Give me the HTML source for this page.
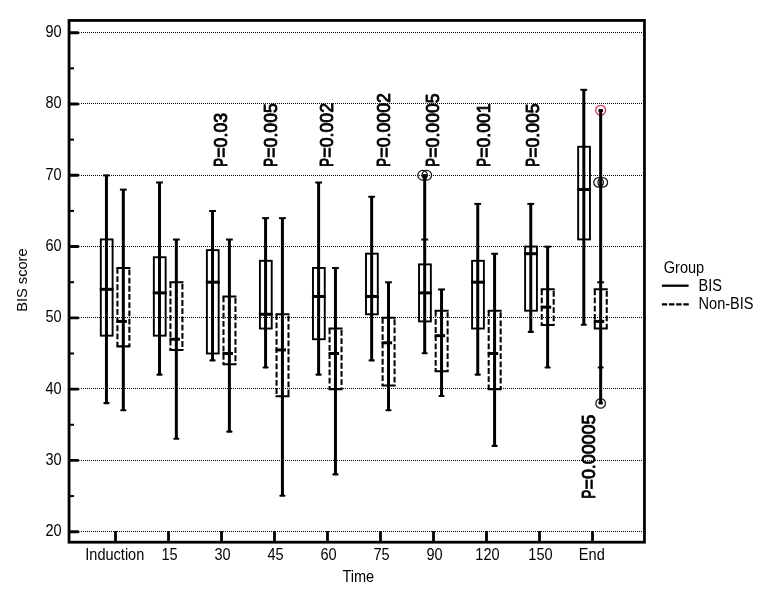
<!DOCTYPE html>
<html><head><meta charset="utf-8"><title>BIS score by time</title>
<style>
html,body{margin:0;padding:0;background:#fff;}
body{width:770px;height:600px;overflow:hidden;font-family:"Liberation Sans",sans-serif;}
svg{display:block;will-change:transform;}
</style></head>
<body>
<svg width="770" height="600" viewBox="0 0 770 600">
<rect width="770" height="600" fill="#fff"/>
<line x1="81" x2="643" y1="531.5" y2="531.5" stroke="#000" stroke-width="1" stroke-dasharray="1 1" shape-rendering="crispEdges"/>
<line x1="81" x2="643" y1="460.5" y2="460.5" stroke="#000" stroke-width="1" stroke-dasharray="1 1" shape-rendering="crispEdges"/>
<line x1="81" x2="643" y1="388.5" y2="388.5" stroke="#000" stroke-width="1" stroke-dasharray="1 1" shape-rendering="crispEdges"/>
<line x1="81" x2="643" y1="317.5" y2="317.5" stroke="#000" stroke-width="1" stroke-dasharray="1 1" shape-rendering="crispEdges"/>
<line x1="81" x2="643" y1="246.5" y2="246.5" stroke="#000" stroke-width="1" stroke-dasharray="1 1" shape-rendering="crispEdges"/>
<line x1="81" x2="643" y1="175.5" y2="175.5" stroke="#000" stroke-width="1" stroke-dasharray="1 1" shape-rendering="crispEdges"/>
<line x1="81" x2="643" y1="103.5" y2="103.5" stroke="#000" stroke-width="1" stroke-dasharray="1 1" shape-rendering="crispEdges"/>
<line x1="81" x2="643" y1="32.5" y2="32.5" stroke="#000" stroke-width="1" stroke-dasharray="1 1" shape-rendering="crispEdges"/>
<rect x="69.05" y="20.45" width="575.4" height="521.75" fill="none" stroke="#000" stroke-width="2.8"/>
<path d="M70 530.25 H78.2 L79.6 531.20 V532.20 L78.2 533.15 H70 Z" fill="#000"/>
<path d="M70 458.96 H78.2 L79.6 459.91 V460.91 L78.2 461.86 H70 Z" fill="#000"/>
<path d="M70 387.68 H78.2 L79.6 388.63 V389.63 L78.2 390.58 H70 Z" fill="#000"/>
<path d="M70 316.39 H78.2 L79.6 317.34 V318.34 L78.2 319.29 H70 Z" fill="#000"/>
<path d="M70 245.11 H78.2 L79.6 246.06 V247.06 L78.2 248.01 H70 Z" fill="#000"/>
<path d="M70 173.82 H78.2 L79.6 174.77 V175.77 L78.2 176.72 H70 Z" fill="#000"/>
<path d="M70 102.53 H78.2 L79.6 103.48 V104.48 L78.2 105.43 H70 Z" fill="#000"/>
<path d="M70 31.25 H78.2 L79.6 32.20 V33.20 L78.2 34.15 H70 Z" fill="#000"/>
<line x1="70" x2="74" y1="496.06" y2="496.06" stroke="#000" stroke-width="2"/>
<line x1="70" x2="74" y1="424.77" y2="424.77" stroke="#000" stroke-width="2"/>
<line x1="70" x2="74" y1="353.49" y2="353.49" stroke="#000" stroke-width="2"/>
<line x1="70" x2="74" y1="282.20" y2="282.20" stroke="#000" stroke-width="2"/>
<line x1="70" x2="74" y1="210.91" y2="210.91" stroke="#000" stroke-width="2"/>
<line x1="70" x2="74" y1="139.63" y2="139.63" stroke="#000" stroke-width="2"/>
<line x1="70" x2="74" y1="68.34" y2="68.34" stroke="#000" stroke-width="2"/>
<line x1="115.5" x2="115.5" y1="531" y2="541" stroke="#000" stroke-width="2.8"/>
<line x1="168.5" x2="168.5" y1="531" y2="541" stroke="#000" stroke-width="2.8"/>
<line x1="221.5" x2="221.5" y1="531" y2="541" stroke="#000" stroke-width="2.8"/>
<line x1="274.5" x2="274.5" y1="531" y2="541" stroke="#000" stroke-width="2.8"/>
<line x1="327.5" x2="327.5" y1="531" y2="541" stroke="#000" stroke-width="2.8"/>
<line x1="380.5" x2="380.5" y1="531" y2="541" stroke="#000" stroke-width="2.8"/>
<line x1="433.5" x2="433.5" y1="531" y2="541" stroke="#000" stroke-width="2.8"/>
<line x1="486.5" x2="486.5" y1="531" y2="541" stroke="#000" stroke-width="2.8"/>
<line x1="539.5" x2="539.5" y1="531" y2="541" stroke="#000" stroke-width="2.8"/>
<line x1="592.5" x2="592.5" y1="531" y2="541" stroke="#000" stroke-width="2.8"/>
<circle cx="422.59" cy="175.27" r="4.8" fill="none" stroke="#111" stroke-width="1.25"/>
<circle cx="426.79" cy="175.27" r="4.8" fill="none" stroke="#111" stroke-width="1.25"/>
<circle cx="598.56" cy="182.40" r="4.8" fill="none" stroke="#111" stroke-width="1.25"/>
<circle cx="602.76" cy="182.40" r="4.8" fill="none" stroke="#111" stroke-width="1.25"/>
<circle cx="600.66" cy="110.31" r="4.95" fill="none" stroke="#dc2f55" stroke-width="1.3"/>
<circle cx="600.66" cy="403.39" r="4.8" fill="none" stroke="#1a1a1a" stroke-width="1.25"/>
<line x1="106.45" x2="106.45" y1="175.27" y2="403.39" stroke="#000" stroke-width="3.0"/>
<rect x="103.05" y="174.37" width="6.8" height="2" fill="#000"/>
<rect x="103.35" y="402.09" width="6.2" height="2.1" rx="1" fill="#000"/>
<rect x="100.80" y="239.43" width="11.80" height="96.24" fill="none" stroke="#000" stroke-width="1.9"/>
<line x1="99.75" x2="113.55" y1="289.33" y2="289.33" stroke="#000" stroke-width="3.0"/>
<line x1="123.3" x2="123.3" y1="189.53" y2="410.51" stroke="#000" stroke-width="3.0"/>
<rect x="119.90" y="188.63" width="6.8" height="2" fill="#000"/>
<rect x="120.20" y="409.21" width="6.2" height="2.1" rx="1" fill="#000"/>
<line x1="117.42" x2="117.42" y1="267.94" y2="346.36" stroke="#000" stroke-width="2.05" stroke-dasharray="5.8 2.4"/>
<line x1="129.38" x2="129.38" y1="267.94" y2="346.36" stroke="#000" stroke-width="2.05" stroke-dasharray="5.8 2.4" stroke-dashoffset="-1.5"/>
<line x1="116.40" x2="130.40" y1="267.94" y2="267.94" stroke="#000" stroke-width="2.05" stroke-dasharray="5.8 2.4"/>
<line x1="116.40" x2="130.40" y1="346.36" y2="346.36" stroke="#000" stroke-width="2.05" stroke-dasharray="5.8 2.4"/>
<line x1="116.40" x2="126.90" y1="321.41" y2="321.41" stroke="#000" stroke-width="3.0"/>
<line x1="159.49" x2="159.49" y1="182.40" y2="374.87" stroke="#000" stroke-width="3.0"/>
<rect x="156.09" y="181.50" width="6.8" height="2" fill="#000"/>
<rect x="156.39" y="373.57" width="6.2" height="2.1" rx="1" fill="#000"/>
<rect x="153.84" y="257.25" width="11.80" height="78.41" fill="none" stroke="#000" stroke-width="1.9"/>
<line x1="152.79" x2="166.59" y1="292.89" y2="292.89" stroke="#000" stroke-width="3.0"/>
<line x1="176.34" x2="176.34" y1="239.43" y2="439.03" stroke="#000" stroke-width="3.0"/>
<rect x="172.94" y="238.53" width="6.8" height="2" fill="#000"/>
<rect x="173.24" y="437.73" width="6.2" height="2.1" rx="1" fill="#000"/>
<line x1="170.47" x2="170.47" y1="282.20" y2="349.92" stroke="#000" stroke-width="2.05" stroke-dasharray="5.8 2.4"/>
<line x1="182.41" x2="182.41" y1="282.20" y2="349.92" stroke="#000" stroke-width="2.05" stroke-dasharray="5.8 2.4" stroke-dashoffset="-1.5"/>
<line x1="169.44" x2="183.44" y1="282.20" y2="282.20" stroke="#000" stroke-width="2.05" stroke-dasharray="5.8 2.4"/>
<line x1="169.44" x2="183.44" y1="349.92" y2="349.92" stroke="#000" stroke-width="2.05" stroke-dasharray="5.8 2.4"/>
<line x1="169.44" x2="179.94" y1="339.23" y2="339.23" stroke="#000" stroke-width="3.0"/>
<line x1="212.53" x2="212.53" y1="210.91" y2="360.61" stroke="#000" stroke-width="3.0"/>
<rect x="209.13" y="210.01" width="6.8" height="2" fill="#000"/>
<rect x="209.43" y="359.31" width="6.2" height="2.1" rx="1" fill="#000"/>
<rect x="206.88" y="250.12" width="11.80" height="103.36" fill="none" stroke="#000" stroke-width="1.9"/>
<line x1="205.83" x2="219.63" y1="282.20" y2="282.20" stroke="#000" stroke-width="3.0"/>
<line x1="229.38" x2="229.38" y1="239.43" y2="431.90" stroke="#000" stroke-width="3.0"/>
<rect x="225.98" y="238.53" width="6.8" height="2" fill="#000"/>
<rect x="226.28" y="430.60" width="6.2" height="2.1" rx="1" fill="#000"/>
<line x1="223.50" x2="223.50" y1="296.46" y2="364.18" stroke="#000" stroke-width="2.05" stroke-dasharray="5.8 2.4"/>
<line x1="235.45" x2="235.45" y1="296.46" y2="364.18" stroke="#000" stroke-width="2.05" stroke-dasharray="5.8 2.4" stroke-dashoffset="-1.5"/>
<line x1="222.48" x2="236.48" y1="296.46" y2="296.46" stroke="#000" stroke-width="2.05" stroke-dasharray="5.8 2.4"/>
<line x1="222.48" x2="236.48" y1="364.18" y2="364.18" stroke="#000" stroke-width="2.05" stroke-dasharray="5.8 2.4"/>
<line x1="222.48" x2="232.98" y1="353.49" y2="353.49" stroke="#000" stroke-width="3.0"/>
<line x1="265.57" x2="265.57" y1="218.04" y2="367.74" stroke="#000" stroke-width="3.0"/>
<rect x="262.17" y="217.14" width="6.8" height="2" fill="#000"/>
<rect x="262.47" y="366.44" width="6.2" height="2.1" rx="1" fill="#000"/>
<rect x="259.92" y="260.81" width="11.80" height="67.72" fill="none" stroke="#000" stroke-width="1.9"/>
<line x1="258.87" x2="272.67" y1="314.28" y2="314.28" stroke="#000" stroke-width="3.0"/>
<line x1="282.42" x2="282.42" y1="218.04" y2="496.06" stroke="#000" stroke-width="3.0"/>
<rect x="279.02" y="217.14" width="6.8" height="2" fill="#000"/>
<rect x="279.32" y="494.76" width="6.2" height="2.1" rx="1" fill="#000"/>
<line x1="276.55" x2="276.55" y1="314.28" y2="396.26" stroke="#000" stroke-width="2.05" stroke-dasharray="5.8 2.4"/>
<line x1="288.50" x2="288.50" y1="314.28" y2="396.26" stroke="#000" stroke-width="2.05" stroke-dasharray="5.8 2.4" stroke-dashoffset="-1.5"/>
<line x1="275.52" x2="289.52" y1="314.28" y2="314.28" stroke="#000" stroke-width="2.05" stroke-dasharray="5.8 2.4"/>
<line x1="275.52" x2="289.52" y1="396.26" y2="396.26" stroke="#000" stroke-width="2.05" stroke-dasharray="5.8 2.4"/>
<line x1="275.52" x2="286.02" y1="349.92" y2="349.92" stroke="#000" stroke-width="3.0"/>
<line x1="318.61" x2="318.61" y1="182.40" y2="374.87" stroke="#000" stroke-width="3.0"/>
<rect x="315.21" y="181.50" width="6.8" height="2" fill="#000"/>
<rect x="315.51" y="373.57" width="6.2" height="2.1" rx="1" fill="#000"/>
<rect x="312.96" y="267.94" width="11.80" height="71.29" fill="none" stroke="#000" stroke-width="1.9"/>
<line x1="311.91" x2="325.71" y1="296.46" y2="296.46" stroke="#000" stroke-width="3.0"/>
<line x1="335.46" x2="335.46" y1="267.94" y2="474.67" stroke="#000" stroke-width="3.0"/>
<rect x="332.06" y="267.04" width="6.8" height="2" fill="#000"/>
<rect x="332.36" y="473.37" width="6.2" height="2.1" rx="1" fill="#000"/>
<line x1="329.58" x2="329.58" y1="328.53" y2="389.13" stroke="#000" stroke-width="2.05" stroke-dasharray="5.8 2.4"/>
<line x1="341.54" x2="341.54" y1="328.53" y2="389.13" stroke="#000" stroke-width="2.05" stroke-dasharray="5.8 2.4" stroke-dashoffset="-1.5"/>
<line x1="328.56" x2="342.56" y1="328.53" y2="328.53" stroke="#000" stroke-width="2.05" stroke-dasharray="5.8 2.4"/>
<line x1="328.56" x2="342.56" y1="389.13" y2="389.13" stroke="#000" stroke-width="2.05" stroke-dasharray="5.8 2.4"/>
<line x1="328.56" x2="339.06" y1="353.49" y2="353.49" stroke="#000" stroke-width="3.0"/>
<line x1="371.65" x2="371.65" y1="196.66" y2="360.61" stroke="#000" stroke-width="3.0"/>
<rect x="368.25" y="195.76" width="6.8" height="2" fill="#000"/>
<rect x="368.55" y="359.31" width="6.2" height="2.1" rx="1" fill="#000"/>
<rect x="366.00" y="253.68" width="11.80" height="60.59" fill="none" stroke="#000" stroke-width="1.9"/>
<line x1="364.95" x2="378.75" y1="296.46" y2="296.46" stroke="#000" stroke-width="3.0"/>
<line x1="388.5" x2="388.5" y1="282.20" y2="410.51" stroke="#000" stroke-width="3.0"/>
<rect x="385.10" y="281.30" width="6.8" height="2" fill="#000"/>
<rect x="385.40" y="409.21" width="6.2" height="2.1" rx="1" fill="#000"/>
<line x1="382.62" x2="382.62" y1="317.84" y2="385.56" stroke="#000" stroke-width="2.05" stroke-dasharray="5.8 2.4"/>
<line x1="394.58" x2="394.58" y1="317.84" y2="385.56" stroke="#000" stroke-width="2.05" stroke-dasharray="5.8 2.4" stroke-dashoffset="-1.5"/>
<line x1="381.60" x2="395.60" y1="317.84" y2="317.84" stroke="#000" stroke-width="2.05" stroke-dasharray="5.8 2.4"/>
<line x1="381.60" x2="395.60" y1="385.56" y2="385.56" stroke="#000" stroke-width="2.05" stroke-dasharray="5.8 2.4"/>
<line x1="381.60" x2="392.10" y1="342.79" y2="342.79" stroke="#000" stroke-width="3.0"/>
<line x1="424.69" x2="424.69" y1="175.27" y2="353.49" stroke="#000" stroke-width="3.0"/>
<rect x="421.29" y="238.53" width="6.8" height="2" fill="#000"/>
<rect x="421.59" y="352.19" width="6.2" height="2.1" rx="1" fill="#000"/>
<rect x="419.04" y="264.38" width="11.80" height="57.03" fill="none" stroke="#000" stroke-width="1.9"/>
<line x1="417.99" x2="431.79" y1="292.89" y2="292.89" stroke="#000" stroke-width="3.0"/>
<line x1="441.54" x2="441.54" y1="289.33" y2="396.26" stroke="#000" stroke-width="3.0"/>
<rect x="438.14" y="288.43" width="6.8" height="2" fill="#000"/>
<rect x="438.44" y="394.96" width="6.2" height="2.1" rx="1" fill="#000"/>
<line x1="435.67" x2="435.67" y1="310.71" y2="371.31" stroke="#000" stroke-width="2.05" stroke-dasharray="5.8 2.4"/>
<line x1="447.62" x2="447.62" y1="310.71" y2="371.31" stroke="#000" stroke-width="2.05" stroke-dasharray="5.8 2.4" stroke-dashoffset="-1.5"/>
<line x1="434.64" x2="448.64" y1="310.71" y2="310.71" stroke="#000" stroke-width="2.05" stroke-dasharray="5.8 2.4"/>
<line x1="434.64" x2="448.64" y1="371.31" y2="371.31" stroke="#000" stroke-width="2.05" stroke-dasharray="5.8 2.4"/>
<line x1="434.64" x2="445.14" y1="335.66" y2="335.66" stroke="#000" stroke-width="3.0"/>
<line x1="477.72999999999996" x2="477.72999999999996" y1="203.78" y2="374.87" stroke="#000" stroke-width="3.0"/>
<rect x="474.33" y="202.88" width="6.8" height="2" fill="#000"/>
<rect x="474.63" y="373.57" width="6.2" height="2.1" rx="1" fill="#000"/>
<rect x="472.08" y="260.81" width="11.80" height="67.72" fill="none" stroke="#000" stroke-width="1.9"/>
<line x1="471.03" x2="484.83" y1="282.20" y2="282.20" stroke="#000" stroke-width="3.0"/>
<line x1="494.58" x2="494.58" y1="253.68" y2="446.16" stroke="#000" stroke-width="3.0"/>
<rect x="491.18" y="252.78" width="6.8" height="2" fill="#000"/>
<rect x="491.48" y="444.86" width="6.2" height="2.1" rx="1" fill="#000"/>
<line x1="488.70" x2="488.70" y1="310.71" y2="389.13" stroke="#000" stroke-width="2.05" stroke-dasharray="5.8 2.4"/>
<line x1="500.66" x2="500.66" y1="310.71" y2="389.13" stroke="#000" stroke-width="2.05" stroke-dasharray="5.8 2.4" stroke-dashoffset="-1.5"/>
<line x1="487.68" x2="501.68" y1="310.71" y2="310.71" stroke="#000" stroke-width="2.05" stroke-dasharray="5.8 2.4"/>
<line x1="487.68" x2="501.68" y1="389.13" y2="389.13" stroke="#000" stroke-width="2.05" stroke-dasharray="5.8 2.4"/>
<line x1="487.68" x2="498.18" y1="353.49" y2="353.49" stroke="#000" stroke-width="3.0"/>
<line x1="530.77" x2="530.77" y1="203.78" y2="332.10" stroke="#000" stroke-width="3.0"/>
<rect x="527.37" y="202.88" width="6.8" height="2" fill="#000"/>
<rect x="527.67" y="330.80" width="6.2" height="2.1" rx="1" fill="#000"/>
<rect x="525.12" y="246.56" width="11.80" height="64.16" fill="none" stroke="#000" stroke-width="1.9"/>
<line x1="524.07" x2="537.87" y1="253.68" y2="253.68" stroke="#000" stroke-width="3.0"/>
<line x1="547.62" x2="547.62" y1="246.56" y2="367.74" stroke="#000" stroke-width="3.0"/>
<rect x="544.22" y="245.66" width="6.8" height="2" fill="#000"/>
<rect x="544.52" y="366.44" width="6.2" height="2.1" rx="1" fill="#000"/>
<line x1="541.75" x2="541.75" y1="289.33" y2="324.97" stroke="#000" stroke-width="2.05" stroke-dasharray="5.8 2.4"/>
<line x1="553.70" x2="553.70" y1="289.33" y2="324.97" stroke="#000" stroke-width="2.05" stroke-dasharray="5.8 2.4" stroke-dashoffset="-1.5"/>
<line x1="540.72" x2="554.72" y1="289.33" y2="289.33" stroke="#000" stroke-width="2.05" stroke-dasharray="5.8 2.4"/>
<line x1="540.72" x2="554.72" y1="324.97" y2="324.97" stroke="#000" stroke-width="2.05" stroke-dasharray="5.8 2.4"/>
<line x1="540.72" x2="551.22" y1="307.15" y2="307.15" stroke="#000" stroke-width="3.0"/>
<line x1="583.8100000000001" x2="583.8100000000001" y1="89.73" y2="324.97" stroke="#000" stroke-width="3.0"/>
<rect x="580.41" y="88.83" width="6.8" height="2" fill="#000"/>
<rect x="580.71" y="323.67" width="6.2" height="2.1" rx="1" fill="#000"/>
<rect x="578.16" y="146.76" width="11.80" height="92.67" fill="none" stroke="#000" stroke-width="1.9"/>
<line x1="577.11" x2="590.91" y1="189.53" y2="189.53" stroke="#000" stroke-width="3.0"/>
<line x1="600.66" x2="600.66" y1="109.69" y2="403.39" stroke="#000" stroke-width="3.0"/>
<rect x="597.26" y="281.30" width="6.8" height="2" fill="#000"/>
<rect x="597.56" y="366.44" width="6.2" height="2.1" rx="1" fill="#000"/>
<line x1="594.78" x2="594.78" y1="289.33" y2="328.53" stroke="#000" stroke-width="2.05" stroke-dasharray="5.8 2.4"/>
<line x1="606.74" x2="606.74" y1="289.33" y2="328.53" stroke="#000" stroke-width="2.05" stroke-dasharray="5.8 2.4" stroke-dashoffset="-1.5"/>
<line x1="593.76" x2="607.76" y1="289.33" y2="289.33" stroke="#000" stroke-width="2.05" stroke-dasharray="5.8 2.4"/>
<line x1="593.76" x2="607.76" y1="328.53" y2="328.53" stroke="#000" stroke-width="2.05" stroke-dasharray="5.8 2.4"/>
<line x1="593.76" x2="604.26" y1="321.41" y2="321.41" stroke="#000" stroke-width="3.0"/>
<rect x="422.49" y="174.07" width="4.4" height="3" fill="#000"/>
<rect x="598.46" y="109.01" width="4.4" height="3" fill="#000"/>
<rect x="598.46" y="401.59" width="4.4" height="3" rx="1" fill="#000"/>
<text transform="translate(61.60,536.10) scale(0.915,1)" text-anchor="end" font-family="Liberation Sans, sans-serif" font-size="15.9" fill="#000">20</text>
<text transform="translate(61.60,464.81) scale(0.915,1)" text-anchor="end" font-family="Liberation Sans, sans-serif" font-size="15.9" fill="#000">30</text>
<text transform="translate(61.60,393.53) scale(0.915,1)" text-anchor="end" font-family="Liberation Sans, sans-serif" font-size="15.9" fill="#000">40</text>
<text transform="translate(61.60,322.24) scale(0.915,1)" text-anchor="end" font-family="Liberation Sans, sans-serif" font-size="15.9" fill="#000">50</text>
<text transform="translate(61.60,250.96) scale(0.915,1)" text-anchor="end" font-family="Liberation Sans, sans-serif" font-size="15.9" fill="#000">60</text>
<text transform="translate(61.60,179.67) scale(0.915,1)" text-anchor="end" font-family="Liberation Sans, sans-serif" font-size="15.9" fill="#000">70</text>
<text transform="translate(61.60,108.38) scale(0.915,1)" text-anchor="end" font-family="Liberation Sans, sans-serif" font-size="15.9" fill="#000">80</text>
<text transform="translate(61.60,37.10) scale(0.915,1)" text-anchor="end" font-family="Liberation Sans, sans-serif" font-size="15.9" fill="#000">90</text>
<text transform="translate(114.80,559.80) scale(0.915,1)" text-anchor="middle" font-family="Liberation Sans, sans-serif" font-size="15.9" fill="#000">Induction</text>
<text transform="translate(169.50,559.80) scale(0.915,1)" text-anchor="middle" font-family="Liberation Sans, sans-serif" font-size="15.9" fill="#000">15</text>
<text transform="translate(222.50,559.80) scale(0.915,1)" text-anchor="middle" font-family="Liberation Sans, sans-serif" font-size="15.9" fill="#000">30</text>
<text transform="translate(275.50,559.80) scale(0.915,1)" text-anchor="middle" font-family="Liberation Sans, sans-serif" font-size="15.9" fill="#000">45</text>
<text transform="translate(328.50,559.80) scale(0.915,1)" text-anchor="middle" font-family="Liberation Sans, sans-serif" font-size="15.9" fill="#000">60</text>
<text transform="translate(381.50,559.80) scale(0.915,1)" text-anchor="middle" font-family="Liberation Sans, sans-serif" font-size="15.9" fill="#000">75</text>
<text transform="translate(434.50,559.80) scale(0.915,1)" text-anchor="middle" font-family="Liberation Sans, sans-serif" font-size="15.9" fill="#000">90</text>
<text transform="translate(487.50,559.80) scale(0.915,1)" text-anchor="middle" font-family="Liberation Sans, sans-serif" font-size="15.9" fill="#000">120</text>
<text transform="translate(540.50,559.80) scale(0.915,1)" text-anchor="middle" font-family="Liberation Sans, sans-serif" font-size="15.9" fill="#000">150</text>
<text transform="translate(591.80,559.80) scale(0.915,1)" text-anchor="middle" font-family="Liberation Sans, sans-serif" font-size="15.9" fill="#000">End</text>
<text transform="translate(358.30,582.00) scale(0.915,1)" text-anchor="middle" font-family="Liberation Sans, sans-serif" font-size="15.9" fill="#000">Time</text>
<text transform="translate(26.6,280.1) rotate(-90) scale(0.975,1)" text-anchor="middle" font-family="Liberation Sans, sans-serif" font-size="15" fill="#000">BIS score</text>
<text transform="translate(663.80,272.90) scale(0.915,1)" text-anchor="start" font-family="Liberation Sans, sans-serif" font-size="15.9" fill="#000">Group</text>
<text transform="translate(698.60,290.70) scale(0.915,1)" text-anchor="start" font-family="Liberation Sans, sans-serif" font-size="15.9" fill="#000">BIS</text>
<text transform="translate(698.60,308.90) scale(0.915,1)" text-anchor="start" font-family="Liberation Sans, sans-serif" font-size="15.9" fill="#000">Non-BIS</text>
<line x1="661.9" x2="688.6" y1="285.7" y2="285.7" stroke="#000" stroke-width="2.3"/>
<line x1="661.9" x2="688.8" y1="304.3" y2="304.3" stroke="#000" stroke-width="2.3" stroke-dasharray="5.4 1.75"/>
<g transform="translate(226.50,165.90) rotate(-90)">
<text transform="translate(-0.9,0) scale(0.70,1)" font-family="Liberation Sans, sans-serif" font-size="18.6" fill="#000" stroke="#000" stroke-width="0.9" stroke-linejoin="round" vector-effect="non-scaling-stroke">P</text>
<text x="8.2" textLength="44.8" lengthAdjust="spacingAndGlyphs" font-family="Liberation Sans, sans-serif" font-size="18.6" fill="#000" stroke="#000" stroke-width="0.9" stroke-linejoin="round" vector-effect="non-scaling-stroke">=0.03</text>
</g>
<g transform="translate(276.90,165.90) rotate(-90)">
<text transform="translate(-0.9,0) scale(0.70,1)" font-family="Liberation Sans, sans-serif" font-size="18.6" fill="#000" stroke="#000" stroke-width="0.9" stroke-linejoin="round" vector-effect="non-scaling-stroke">P</text>
<text x="8.2" textLength="54.5" lengthAdjust="spacingAndGlyphs" font-family="Liberation Sans, sans-serif" font-size="18.6" fill="#000" stroke="#000" stroke-width="0.9" stroke-linejoin="round" vector-effect="non-scaling-stroke">=0.005</text>
</g>
<g transform="translate(333.10,165.90) rotate(-90)">
<text transform="translate(-0.9,0) scale(0.70,1)" font-family="Liberation Sans, sans-serif" font-size="18.6" fill="#000" stroke="#000" stroke-width="0.9" stroke-linejoin="round" vector-effect="non-scaling-stroke">P</text>
<text x="8.2" textLength="54.8" lengthAdjust="spacingAndGlyphs" font-family="Liberation Sans, sans-serif" font-size="18.6" fill="#000" stroke="#000" stroke-width="0.9" stroke-linejoin="round" vector-effect="non-scaling-stroke">=0.002</text>
</g>
<g transform="translate(389.50,165.90) rotate(-90)">
<text transform="translate(-0.9,0) scale(0.70,1)" font-family="Liberation Sans, sans-serif" font-size="18.6" fill="#000" stroke="#000" stroke-width="0.9" stroke-linejoin="round" vector-effect="non-scaling-stroke">P</text>
<text x="8.2" textLength="64.7" lengthAdjust="spacingAndGlyphs" font-family="Liberation Sans, sans-serif" font-size="18.6" fill="#000" stroke="#000" stroke-width="0.9" stroke-linejoin="round" vector-effect="non-scaling-stroke">=0.0002</text>
</g>
<g transform="translate(439.20,165.90) rotate(-90)">
<text transform="translate(-0.9,0) scale(0.70,1)" font-family="Liberation Sans, sans-serif" font-size="18.6" fill="#000" stroke="#000" stroke-width="0.9" stroke-linejoin="round" vector-effect="non-scaling-stroke">P</text>
<text x="8.2" textLength="64.3" lengthAdjust="spacingAndGlyphs" font-family="Liberation Sans, sans-serif" font-size="18.6" fill="#000" stroke="#000" stroke-width="0.9" stroke-linejoin="round" vector-effect="non-scaling-stroke">=0.0005</text>
</g>
<g transform="translate(489.90,165.90) rotate(-90)">
<text transform="translate(-0.9,0) scale(0.70,1)" font-family="Liberation Sans, sans-serif" font-size="18.6" fill="#000" stroke="#000" stroke-width="0.9" stroke-linejoin="round" vector-effect="non-scaling-stroke">P</text>
<text x="8.2" textLength="54.3" lengthAdjust="spacingAndGlyphs" font-family="Liberation Sans, sans-serif" font-size="18.6" fill="#000" stroke="#000" stroke-width="0.9" stroke-linejoin="round" vector-effect="non-scaling-stroke">=0.001</text>
</g>
<g transform="translate(539.10,165.90) rotate(-90)">
<text transform="translate(-0.9,0) scale(0.70,1)" font-family="Liberation Sans, sans-serif" font-size="18.6" fill="#000" stroke="#000" stroke-width="0.9" stroke-linejoin="round" vector-effect="non-scaling-stroke">P</text>
<text x="8.2" textLength="54.3" lengthAdjust="spacingAndGlyphs" font-family="Liberation Sans, sans-serif" font-size="18.6" fill="#000" stroke="#000" stroke-width="0.9" stroke-linejoin="round" vector-effect="non-scaling-stroke">=0.005</text>
</g>
<g transform="translate(594.90,497.70) rotate(-90)">
<text transform="translate(-0.9,0) scale(0.70,1)" font-family="Liberation Sans, sans-serif" font-size="18.6" fill="#000" stroke="#000" stroke-width="0.9" stroke-linejoin="round" vector-effect="non-scaling-stroke">P</text>
<text x="8.2" textLength="74.9" lengthAdjust="spacingAndGlyphs" font-family="Liberation Sans, sans-serif" font-size="18.6" fill="#000" stroke="#000" stroke-width="0.9" stroke-linejoin="round" vector-effect="non-scaling-stroke">=0.00005</text>
</g>
</svg>
</body></html>
